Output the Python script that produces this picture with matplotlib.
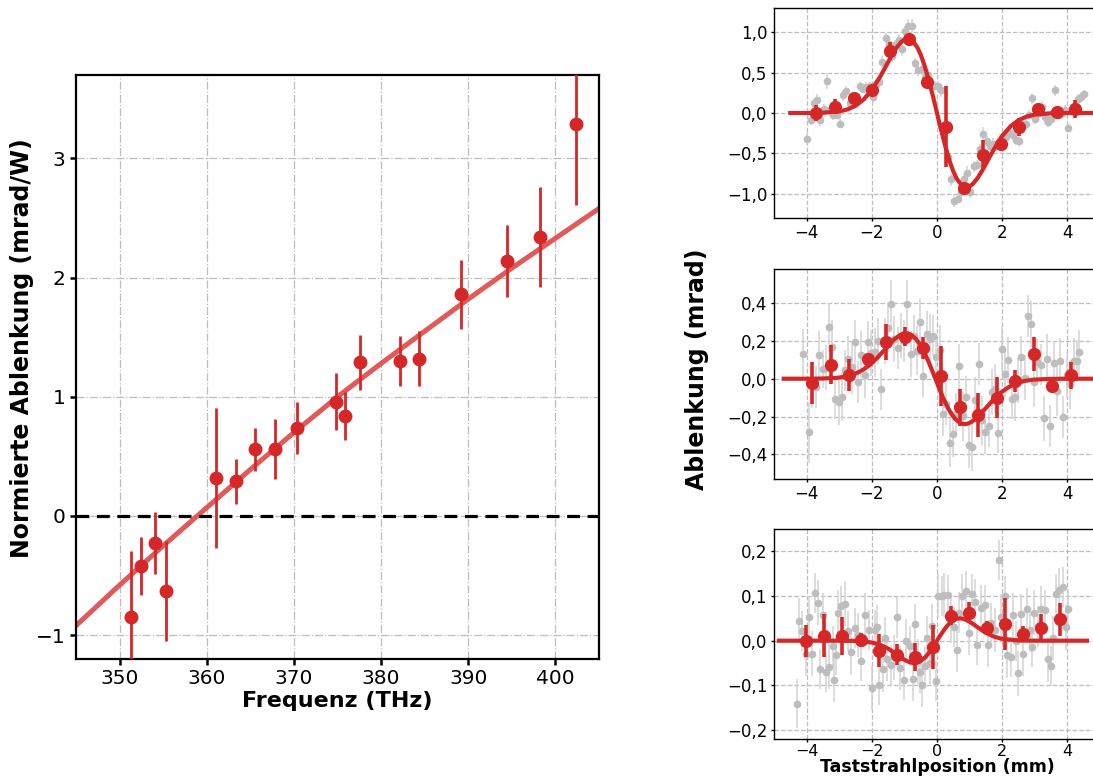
import matplotlib
matplotlib.use("Agg")
import matplotlib.pyplot as plt
from matplotlib.ticker import FuncFormatter

RED = "#d62728"

# ---------------- left panel data ----------------
freq = [351.3, 352.4, 354.1, 355.3, 361.1, 363.4, 365.5, 367.8, 370.4, 374.8,
        375.9, 377.6, 382.2, 384.3, 389.2, 394.5, 398.2, 402.4]
defl = [-0.85, -0.42, -0.23, -0.63, 0.32, 0.29, 0.56, 0.56, 0.74, 0.96,
        0.84, 1.29, 1.30, 1.32, 1.86, 2.14, 2.34, 3.29]
defl_err = [0.56, 0.24, 0.26, 0.42, 0.59, 0.19, 0.18, 0.25, 0.22, 0.24,
            0.20, 0.23, 0.21, 0.23, 0.29, 0.30, 0.42, 0.68]
fit_freq = [345, 350, 355, 360, 365, 370, 375, 380, 385, 390, 395, 400, 405]
fit_defl = [-0.92, -0.58, -0.25, 0.07, 0.39, 0.70, 1.00, 1.28, 1.55, 1.82, 2.08, 2.33, 2.58]

# ---------------- right panels: grey raw data ----------------
gx1 = [-3.98, -3.88, -3.78, -3.68, -3.58, -3.47, -3.38, -3.28, -3.18, -3.07,
       -2.97, -2.88, -2.78, -2.68, -2.57, -2.47, -2.37, -2.27, -2.18, -2.07,
       -1.97, -1.87, -1.78, -1.68, -1.57, -1.47, -1.37, -1.28, -1.17, -1.07,
       -0.97, -0.88, -0.78, -0.67, -0.57, -0.47, -0.37, -0.27, -0.17, -0.07,
       0.03, 0.13, 0.22, 0.33, 0.43, 0.53, 0.63, 0.73, 0.83, 0.93,
       1.02, 1.12, 1.23, 1.33, 1.42, 1.52, 1.62, 1.73, 1.82, 1.92,
       2.02, 2.12, 2.22, 2.32, 2.42, 2.52, 2.63, 2.72, 2.82, 2.92,
       3.02, 3.12, 3.22, 3.32, 3.42, 3.51, 3.62, 3.72, 3.82, 3.92,
       4.01, 4.12, 4.22, 4.32, 4.42, 4.52]
gv1 = [-0.32, -0.09, 0.13, 0.16, -0.09, 0.05, 0.40, 0.04, -0.02, -0.02,
       -0.13, 0.22, 0.27, 0.12, 0.14, 0.16, 0.33, 0.30, 0.32, 0.33,
       0.20, 0.36, 0.38, 0.63, 0.93, 0.86, 0.71, 0.84, 0.90, 0.79,
       1.01, 1.08, 1.08, 0.62, 0.53, 0.55, 0.45, 0.47, 0.34, 0.34,
       0.33, 0.28, -0.19, -0.54, -0.82, -1.09, -1.06, -0.98, -0.82, -0.74,
       -0.98, -0.66, -0.64, -0.45, -0.26, -0.35, -0.41, -0.38, -0.41, -0.33,
       -0.29, -0.30, -0.24, -0.27, -0.33, -0.35, -0.15, -0.13, -0.02, 0.18,
       -0.07, 0.00, 0.08, -0.05, -0.11, -0.07, 0.28, -0.02, 0.00, 0.04,
       -0.18, 0.04, 0.10, 0.17, 0.20, 0.24]
ge1 = [0.08, 0.06, 0.06, 0.07, 0.07, 0.06, 0.10, 0.06, 0.07, 0.06,
       0.06, 0.07, 0.07, 0.08, 0.06, 0.07, 0.06, 0.05, 0.06, 0.05,
       0.07, 0.06, 0.07, 0.07, 0.06, 0.07, 0.08, 0.06, 0.06, 0.08,
       0.07, 0.09, 0.08, 0.06, 0.07, 0.08, 0.07, 0.08, 0.07, 0.06,
       0.07, 0.08, 0.07, 0.09, 0.08, 0.07, 0.06, 0.08, 0.07, 0.08,
       0.07, 0.07, 0.06, 0.07, 0.09, 0.07, 0.06, 0.07, 0.06, 0.07,
       0.07, 0.06, 0.07, 0.06, 0.07, 0.07, 0.06, 0.07, 0.06, 0.07,
       0.07, 0.06, 0.07, 0.08, 0.06, 0.07, 0.07, 0.06, 0.07, 0.06,
       0.06, 0.07, 0.06, 0.07, 0.06, 0.05]

gx2 = [-4.11, -3.92, -3.82, -3.72, -3.62, -3.51, -3.41, -3.31, -3.21, -3.13,
       -3.02, -2.92, -2.82, -2.72, -2.61, -2.52, -2.42, -2.32, -2.22, -2.11,
       -2.01, -1.91, -1.82, -1.72, -1.61, -1.51, -1.41, -1.31, -1.21, -1.11,
       -1.01, -0.91, -0.81, -0.70, -0.60, -0.52, -0.42, -0.32, -0.21, -0.11,
       -0.02, 0.08, 0.18, 0.29, 0.39, 0.49, 0.58, 0.68, 0.79, 0.89,
       0.98, 1.08, 1.18, 1.29, 1.39, 1.48, 1.58, 1.69, 1.79, 1.88,
       1.98, 2.08, 2.19, 2.29, 2.39, 2.48, 2.58, 2.69, 2.78, 2.88,
       2.98, 3.08, 3.18, 3.28, 3.38, 3.48, 3.58, 3.68, 3.78, 3.88,
       3.98, 4.09, 4.19, 4.29, 4.37]
gv2 = [0.131, -0.284, -0.035, -0.044, 0.123, 0.053, 0.058, 0.271, 0.17, -0.105,
       -0.123, -0.096, 0.044, 0.105, 0.061, 0.193, -0.018, 0.123, 0.018, 0.193,
       0.135, 0.14, 0.20, -0.056, 0.20, 0.27, 0.394, 0.21, 0.163, 0.228,
       0.20, 0.394, 0.131, 0.228, 0.149, 0.30, 0.012, 0.236, 0.21, 0.228,
       0.114, 0.152, -0.184, -0.135, -0.338, -0.292, -0.184, 0.065, -0.198, -0.096,
       -0.35, -0.359, -0.11, 0.079, -0.219, -0.28, -0.249, -0.07, -0.053, -0.285,
       0.158, 0.026, 0.10, -0.105, -0.096, -0.009, 0.114, 0.005, 0.333, 0.289,
       -0.018, 0.088, 0.075, -0.21, 0.105, -0.249, 0.082, -0.065, 0.096, -0.201,
       0.018, -0.03, 0.096, 0.093, 0.14]
ge2 = [0.13, 0.16, 0.12, 0.11, 0.13, 0.10, 0.12, 0.13, 0.14, 0.11,
       0.12, 0.13, 0.11, 0.12, 0.14, 0.12, 0.11, 0.13, 0.12, 0.11,
       0.12, 0.13, 0.12, 0.11, 0.12, 0.13, 0.13, 0.12, 0.11, 0.12,
       0.11, 0.13, 0.12, 0.11, 0.13, 0.12, 0.11, 0.12, 0.13, 0.11,
       0.12, 0.13, 0.12, 0.11, 0.13, 0.12, 0.11, 0.12, 0.13, 0.11,
       0.12, 0.13, 0.12, 0.11, 0.13, 0.12, 0.11, 0.12, 0.13, 0.11,
       0.12, 0.13, 0.12, 0.11, 0.13, 0.12, 0.11, 0.12, 0.11, 0.12,
       0.13, 0.12, 0.11, 0.12, 0.13, 0.11, 0.12, 0.13, 0.12, 0.11,
       0.12, 0.13, 0.12, 0.11, 0.12]

gx3 = [-4.30, -4.23, -4.13, -4.03, -3.93, -3.83, -3.73, -3.66, -3.60, -3.50,
       -3.40, -3.30, -3.20, -3.16, -3.09, -3.03, -2.93, -2.83, -2.73, -2.63,
       -2.52, -2.42, -2.32, -2.22, -2.10, -1.99, -1.91, -1.83, -1.77, -1.67,
       -1.59, -1.53, -1.42, -1.32, -1.22, -1.12, -1.02, -0.94, -0.83, -0.75,
       -0.67, -0.57, -0.51, -0.45, -0.37, -0.31, -0.22, -0.14, -0.04, 0.04,
       0.14, 0.22, 0.33, 0.43, 0.53, 0.61, 0.67, 0.77, 0.88, 0.98,
       1.08, 1.16, 1.24, 1.36, 1.47, 1.57, 1.67, 1.77, 1.91, 1.97,
       2.08, 2.16, 2.26, 2.34, 2.42, 2.48, 2.58, 2.65, 2.75, 2.85,
       2.91, 2.99, 3.09, 3.18, 3.30, 3.40, 3.50, 3.56, 3.66, 3.75,
       3.87, 3.97, 4.03]
gv3 = [-0.141, 0.045, 0.022, -0.029, 0.054, -0.029, 0.107, 0.085, -0.063, 0.057,
       -0.070, -0.058, -0.011, -0.088, -0.032, 0.063, 0.077, 0.083, 0.021, -0.026,
       0.028, 0.013, -0.046, 0.057, 0.024, -0.106, 0.024, 0.030, -0.099, -0.064,
       0.007, -0.041, -0.055, -0.037, 0.052, -0.060, -0.088, -0.001, -0.011, -0.086,
       0.038, -0.046, -0.071, -0.099, -0.057, 0.006, -0.051, 0.032, -0.090, 0.100,
       0.100, 0.102, 0.102, 0.045, 0.030, -0.020, 0.063, 0.099, 0.111, 0.018,
       0.104, 0.087, -0.010, 0.074, 0.080, -0.009, 0.040, 0.024, 0.180, 0.054,
       0.099, -0.033, -0.036, 0.057, -0.001, -0.073, 0.060, -0.029, 0.072, 0.024,
       -0.014, 0.063, 0.032, 0.072, 0.069, -0.042, -0.057, 0.006, 0.104, 0.113,
       0.120, 0.030, 0.070]
ge3 = [0.055, 0.05, 0.045, 0.05, 0.045, 0.05, 0.045, 0.05, 0.045, 0.05,
       0.045, 0.05, 0.045, 0.05, 0.045, 0.05, 0.045, 0.05, 0.045, 0.05,
       0.045, 0.05, 0.045, 0.05, 0.045, 0.05, 0.045, 0.05, 0.045, 0.05,
       0.045, 0.05, 0.045, 0.05, 0.045, 0.05, 0.045, 0.05, 0.045, 0.05,
       0.045, 0.05, 0.045, 0.05, 0.045, 0.05, 0.045, 0.05, 0.045, 0.05,
       0.045, 0.05, 0.045, 0.05, 0.045, 0.05, 0.045, 0.05, 0.045, 0.05,
       0.045, 0.05, 0.045, 0.05, 0.045, 0.05, 0.045, 0.05, 0.045, 0.05,
       0.045, 0.05, 0.045, 0.05, 0.045, 0.05, 0.045, 0.05, 0.045, 0.05,
       0.045, 0.05, 0.045, 0.05, 0.045, 0.05, 0.045, 0.05, 0.045, 0.05,
       0.045, 0.05, 0.045]

# ---------------- right panels: binned red data ----------------
pos1 = [-3.70, -3.14, -2.56, -2.00, -1.43, -0.87, -0.30, 0.27, 0.83, 1.40, 1.97, 2.53, 3.11, 3.67, 4.23]
val1 = [0.00, 0.08, 0.18, 0.28, 0.77, 0.92, 0.39, -0.17, -0.93, -0.52, -0.38, -0.17, 0.05, 0.01, 0.045]
err1 = [0.10, 0.09, 0.05, 0.05, 0.11, 0.05, 0.05, 0.50, 0.06, 0.18, 0.05, 0.11, 0.05, 0.06, 0.11]

pos2 = [-3.82, -3.26, -2.69, -2.12, -1.55, -0.99, -0.43, 0.13, 0.70, 1.27, 1.84, 2.40, 2.97, 3.53, 4.10]
val2 = [-0.023, 0.075, 0.018, 0.103, 0.193, 0.222, 0.163, 0.014, -0.152, -0.193, -0.10, -0.012, 0.13, -0.04, 0.018]
err2 = [0.11, 0.105, 0.085, 0.03, 0.095, 0.05, 0.06, 0.16, 0.10, 0.115, 0.11, 0.06, 0.09, 0.02, 0.07]

pos3 = [-4.01, -3.46, -2.90, -2.34, -1.79, -1.23, -0.67, -0.12, 0.44, 0.99, 1.54, 2.09, 2.64, 3.20, 3.76]
val3 = [-0.001, 0.011, 0.010, 0.002, -0.022, -0.031, -0.036, -0.014, 0.056, 0.063, 0.028, 0.037, 0.016, 0.028, 0.048]
err3 = [0.036, 0.048, 0.042, 0.015, 0.036, 0.024, 0.031, 0.049, 0.021, 0.024, 0.015, 0.058, 0.016, 0.032, 0.037]

# ---------------- right panels: fit curves ----------------
fx1 = [-4.5, -4.0, -3.5, -3.0, -2.75, -2.5, -2.25, -2.0, -1.75, -1.6,
       -1.5, -1.4, -1.25, -1.1, -1.0, -0.9, -0.8, -0.75, -0.6, -0.5,
       -0.4, -0.25, -0.1, 0.0, 0.1, 0.25, 0.4, 0.5, 0.6, 0.75,
       0.8, 0.9, 1.0, 1.1, 1.25, 1.4, 1.5, 1.6, 1.75, 2.0,
       2.25, 2.5, 2.75, 3.0, 3.5, 4.0, 4.5, 5.0]
fy1 = [0.0, 0.0, 0.003, 0.020, 0.044, 0.089, 0.167, 0.285, 0.446, 0.555,
       0.630, 0.704, 0.803, 0.878, 0.909, 0.920, 0.908, 0.893, 0.810, 0.722,
       0.611, 0.405, 0.168, 0.0, -0.168, -0.405, -0.611, -0.722, -0.810, -0.893,
       -0.908, -0.920, -0.909, -0.878, -0.803, -0.704, -0.630, -0.555, -0.446, -0.285,
       -0.167, -0.089, -0.044, -0.020, -0.003, 0.0, 0.0, 0.0]

fx2 = [-4.7, -4.05, -3.55, -3.05, -2.8, -2.55, -2.3, -2.05, -1.8, -1.65,
       -1.55, -1.45, -1.3, -1.15, -1.05, -0.95, -0.85, -0.8, -0.65, -0.55,
       -0.45, -0.3, -0.15, -0.05, 0.05, 0.2, 0.35, 0.45, 0.55, 0.7,
       0.75, 0.85, 0.95, 1.05, 1.2, 1.35, 1.45, 1.55, 1.7, 1.95,
       2.2, 2.45, 2.7, 2.95, 3.45, 3.95, 4.45, 5.0]
fy2 = [0.0, 0.0, 0.001, 0.005, 0.011, 0.023, 0.044, 0.074, 0.116, 0.145,
       0.164, 0.184, 0.210, 0.229, 0.237, 0.240, 0.237, 0.233, 0.211, 0.188,
       0.159, 0.106, 0.044, 0.0, -0.044, -0.106, -0.159, -0.188, -0.211, -0.233,
       -0.237, -0.240, -0.237, -0.229, -0.210, -0.184, -0.164, -0.145, -0.116, -0.074,
       -0.044, -0.023, -0.011, -0.005, -0.001, 0.0, 0.0, 0.0]

fx3 = [-4.85, -3.0, -2.5, -2.0, -1.75, -1.5, -1.4, -1.25, -1.1, -1.0,
       -0.85, -0.75, -0.7, -0.6, -0.5, -0.35, -0.25, -0.1, 0.0, 0.1,
       0.25, 0.35, 0.5, 0.6, 0.7, 0.75, 0.85, 1.0, 1.1, 1.25,
       1.4, 1.5, 1.75, 2.0, 2.5, 3.0, 4.6]
fy3 = [0.0, 0.0, -0.0005, -0.004, -0.009, -0.0178, -0.0223, -0.0299, -0.0377, -0.0425,
       -0.0479, -0.0497, -0.05, -0.0489, -0.0456, -0.0364, -0.0276, -0.0117, 0.0, 0.0117,
       0.0276, 0.0364, 0.0456, 0.0489, 0.05, 0.0497, 0.0479, 0.0425, 0.0377, 0.0299,
       0.0223, 0.0178, 0.009, 0.004, 0.0005, 0.0, 0.0]

yticks1 = [-1.0, -0.5, 0.0, 0.5, 1.0]
yticks2 = [-0.4, -0.2, 0.0, 0.2, 0.4]
yticks3 = [-0.2, -0.1, 0.0, 0.1, 0.2]
xticks_r = [-4, -2, 0, 2, 4]
xticks_l = [350, 360, 370, 380, 390, 400]
yticks_l = [-1, 0, 1, 2, 3]

# ---------------- figure ----------------
fig = plt.figure(figsize=(10.93, 7.8), dpi=100)

# left panel
axL = fig.add_axes([76 / 1093, 1 - 659 / 780, 523 / 1093, 584 / 780])
axL.plot(fit_freq, fit_defl, color="#e05050", lw=3.6, alpha=0.95, zorder=2)
axL.axhline(0, color="black", lw=2.3, linestyle=(0, (4, 2.4)), zorder=3)
axL.errorbar(freq, defl, yerr=defl_err, fmt="o", color=RED, ms=9, elinewidth=2.0,
             capsize=0, zorder=4)
axL.set_xlim(345, 405)
axL.set_ylim(-1.2, 3.7)
axL.set_xticks(xticks_l)
axL.set_yticks(yticks_l)
axL.grid(True, linestyle="-.", color="#bdbdbd", lw=0.9)
axL.set_axisbelow(True)
for s in axL.spines.values():
    s.set_linewidth(1.6)
axL.tick_params(labelsize=14.5, length=4, width=1.8, direction="out")
axL.set_xlabel("Frequenz (THz)", fontsize=16, fontweight="bold", labelpad=2)
fig.text(22 / 1093, 1 - 348 / 780, "Normierte Ablenkung (mrad/W)", rotation=90,
         ha="center", va="center", fontsize=17, fontweight="bold")

comma = FuncFormatter(lambda v, p: f"{v:.1f}".replace(".", ",").replace("-", "\u2212"))

right_specs = [
    (1 - 218 / 780, 210 / 780, (-1.3, 1.3), yticks1, gx1, gv1, ge1, pos1, val1, err1, fx1, fy1),
    (1 - 479 / 780, 210 / 780, (-0.53, 0.58), yticks2, gx2, gv2, ge2, pos2, val2, err2, fx2, fy2),
    (1 - 739 / 780, 210 / 780, (-0.22, 0.25), yticks3, gx3, gv3, ge3, pos3, val3, err3, fx3, fy3),
]
axes_r = []
for (b, h, ylim, yt, gx, gv, ge, px, pv, pe, fx, fy) in right_specs:
    ax = fig.add_axes([774 / 1093, b, 326 / 1093, h])
    ax.errorbar(gx, gv, yerr=ge, fmt="o", color="#bdbdbd", ecolor="#d3d3d3", ms=4.5,
                elinewidth=1.1, capsize=0, zorder=2)
    ax.plot(fx, fy, color=RED, lw=3.0, zorder=3)
    ax.errorbar(px, pv, yerr=pe, fmt="o", color=RED, ms=8.5, elinewidth=2.6, capsize=0, zorder=4)
    ax.set_xlim(-5, 5)
    ax.set_ylim(*ylim)
    ax.set_xticks(xticks_r)
    ax.set_yticks(yt)
    ax.yaxis.set_major_formatter(comma)
    ax.grid(True, linestyle="--", color="#bdbdbd", lw=0.9)
    ax.set_axisbelow(True)
    for s in ax.spines.values():
        s.set_linewidth(1.0)
    ax.tick_params(labelsize=12, length=2.5, width=1.0, pad=2)
    axes_r.append(ax)

axes_r[-1].tick_params(axis="x", pad=1, labelsize=11.5)
axes_r[-1].set_xlabel("Taststrahlposition (mm)", fontsize=12.5, fontweight="bold", labelpad=-0.5)
fig.text(697 / 1093, 1 - 369 / 780, "Ablenkung (mrad)", rotation=90, ha="center", va="center",
         fontsize=17, fontweight="bold")

fig.savefig("out.png", dpi=100)
